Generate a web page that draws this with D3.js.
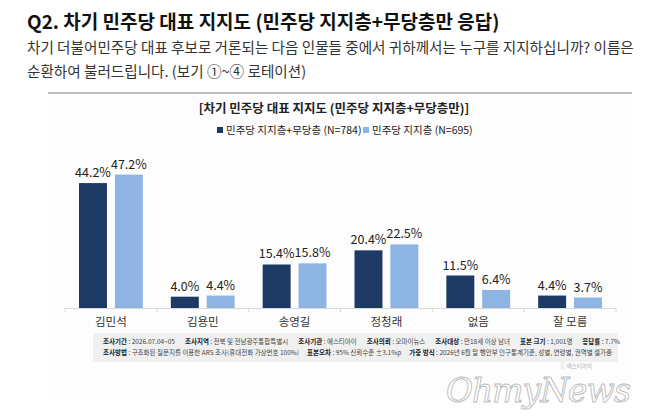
<!DOCTYPE html>
<html>
<head>
<meta charset="utf-8">
<script src="https://cdn.jsdelivr.net/npm/d3@7"></script>
<style>
  body { margin: 0; background: #fff; }
  svg { display: block; font-family: "Noto Sans CJK KR", "Noto Sans", sans-serif; }
</style>
</head>
<body>
<svg id="chart" width="658" height="420"></svg>
<script>
var categories = ["김민석", "김용민", "송영길", "정청래", "없음", "잘 모름"];
var seriesNames = ["민주당 지지층+무당층 (N=784)", "민주당 지지층 (N=695)"];
var seriesAll = [44.2, 4.0, 15.4, 20.4, 11.5, 4.4];     // 지지층+무당층
var seriesDem = [47.2, 4.4, 15.8, 22.5, 6.4, 3.7];      // 지지층
var colors = ["#1c3a63", "#8db4e2"];

var footLine1 = [
  ["조사기간", "2026.07.04~05"],
  ["조사지역", "전북 및 전남광주통합특별시"],
  ["조사기관", "에스티아이"],
  ["조사의뢰", "오마이뉴스"],
  ["조사대상", "만18세 이상 남녀"],
  ["표본 크기", "1,001명"],
  ["응답률", "7.7%"]
];
var footLine2 = [
  ["조사방법", "구조화된 질문지를 이용한 ARS 조사(휴대전화 가상번호 100%)"],
  ["표본오차", "95% 신뢰수준 ±3.1%p"],
  ["가중 방식", "2026년 6월 말 행안부 인구통계기준, 성별, 연령별, 권역별 셀가중"]
];

var svg = d3.select('#chart');

// heading
svg.append('text')
   .attr('x', 27).attr('y', 29)
   .attr('font-size', 19).attr('font-weight', 700).attr('fill', '#111')
   .text("Q2. 차기 민주당 대표 지지도 (민주당 지지층+무당층만 응답)");

svg.append('text')
   .attr('x', 27).attr('y', 53)
   .attr('font-size', 14.6).attr('fill', '#333')
   .text("차기 더불어민주당 대표 후보로 거론되는 다음 인물들 중에서 귀하께서는 누구를 지지하십니까? 이름은");
svg.append('text')
   .attr('x', 27).attr('y', 77)
   .attr('font-size', 14.6).attr('fill', '#333')
   .text("순환하여 불러드립니다. (보기 ①~④ 로테이션)");

// panel
svg.append('rect').attr('x', 48).attr('y', 94).attr('width', 584).attr('height', 300).attr('fill', '#fdfdfd');
svg.append('line')
   .attr('x1', 48).attr('x2', 632).attr('y1', 93).attr('y2', 93)
   .attr('stroke', '#bdbdbd').attr('stroke-width', 2);

svg.append('text')
   .attr('x', 334).attr('y', 113)
   .attr('text-anchor', 'middle')
   .attr('font-size', 12.5).attr('font-weight', 700).attr('fill', '#222')
   .text("[차기 민주당 대표 지지도 (민주당 지지층+무당층만)]");

// legend
var legend = svg.append('g').attr('transform', 'translate(217,134)');
var legX = [0, 146];
seriesNames.forEach(function(name, i) {
    var g = legend.append('g').attr('transform', 'translate(' + legX[i] + ',0)');
    g.append('rect').attr('x', 0).attr('y', -7).attr('width', 6).attr('height', 6).attr('fill', colors[i]);
    g.append('text').attr('x', 9).attr('y', 0)
     .attr('font-size', 10.5).attr('fill', '#222').text(name);
});

// scales
var x0 = d3.scaleBand().domain(categories).range([65, 616]);
var x1 = d3.scaleBand().domain([0, 1]).range([14, x0.bandwidth() - 14]).paddingInner(0.22);
var y = d3.scaleLinear().domain([0, 50]).range([308, 166.7]);

var data = categories.map(function(c, i) { return { cat: c, vals: [seriesAll[i], seriesDem[i]] }; });

var groups = svg.append('g').selectAll('g')
    .data(data).enter().append('g')
    .attr('transform', function(d) { return 'translate(' + x0(d.cat) + ',0)'; });

groups.selectAll('rect')
    .data(function(d) { return d.vals.map(function(v, k) { return { k: k, v: v }; }); })
    .enter().append('rect')
    .attr('x', function(d) { return x1(d.k); })
    .attr('width', x1.bandwidth())
    .attr('y', function(d) { return y(d.v); })
    .attr('height', function(d) { return y(0) - y(d.v); })
    .attr('fill', function(d) { return colors[d.k]; });

groups.selectAll('text.val')
    .data(function(d) { return d.vals.map(function(v, k) { return { k: k, v: v }; }); })
    .enter().append('text')
    .attr('class', 'val')
    .attr('x', function(d) { return x1(d.k) + x1.bandwidth() / 2; })
    .attr('y', function(d) { return y(d.v) - 6; })
    .attr('text-anchor', 'middle')
    .attr('font-size', 12.5).attr('fill', '#222')
    .text(function(d) { return d.v.toFixed(1) + '%'; });

// x axis
var xAxis = svg.append('g').attr('transform', 'translate(0,308)')
    .call(d3.axisBottom(x0).tickSize(0).tickPadding(10));
xAxis.select('.domain').attr('stroke', '#d9d9d9');
xAxis.selectAll('text').attr('font-size', 11.5).attr('fill', '#333')
     .attr('font-family', '"Noto Sans CJK KR", sans-serif');
xAxis.selectAll('.bnd')
    .data(d3.range(categories.length + 1)).enter().append('line')
    .attr('class', 'bnd')
    .attr('x1', function(i) { return 65 + i * x0.step(); })
    .attr('x2', function(i) { return 65 + i * x0.step(); })
    .attr('y1', 0).attr('y2', 4)
    .attr('stroke', '#d9d9d9');

// footnote box
svg.append('rect').attr('x', 93).attr('y', 333).attr('width', 525).attr('height', 29).attr('fill', '#f0f0f0');

function footRow(items, yy, gaps) {
    var t = svg.append('text').attr('x', 103).attr('y', yy)
        .attr('font-size', 6.5).attr('fill', '#444');
    items.forEach(function(it, i) {
        t.append('tspan').attr('dx', i === 0 ? 0 : gaps).attr('font-weight', 700).attr('fill', '#222').text(it[0]);
        t.append('tspan').text(" : " + it[1]);
    });
}
footRow(footLine1, 344, 10);
footRow(footLine2, 355, 8);

// watermark
svg.append('text')
   .attr('x', 446).attr('y', 402)
   .attr('font-family', '"DejaVu Serif", serif').attr('font-style', 'italic')
   .attr('font-size', 33).attr('fill', '#fff')
   .attr('stroke', '#bbb').attr('stroke-width', 0.9)
   .attr('letter-spacing', -1)
   .text("OhmyNews");
svg.append('text')
   .attr('x', 560).attr('y', 367.5)
   .attr('font-size', 5.5).attr('fill', '#aaa')
   .text("ⓒ 에스티아이");
</script>
</body>
</html>
